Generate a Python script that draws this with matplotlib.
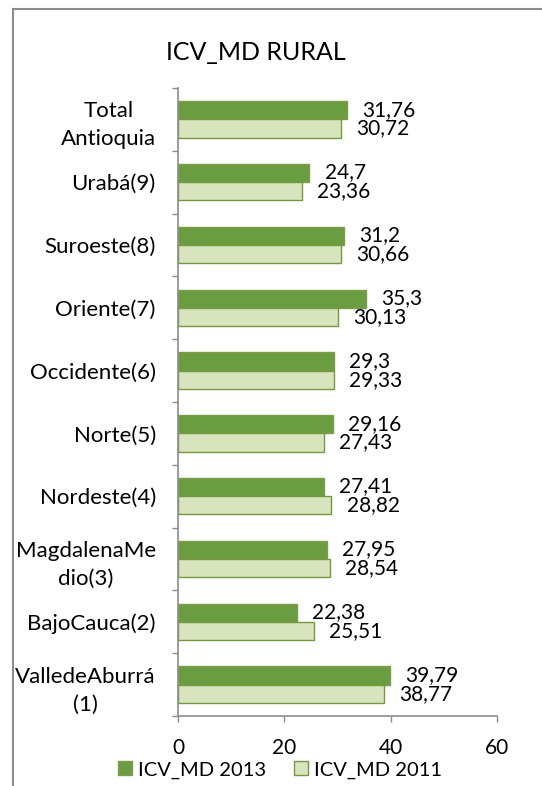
import matplotlib
matplotlib.use("Agg")
import matplotlib.pyplot as plt
from matplotlib.lines import Line2D

plt.rcParams["font.family"] = ["Lato", "DejaVu Sans"]

regions = ["Total\nAntioquia", "Urabá(9)", "Suroeste(8)", "Oriente(7)", "Occidente(6)",
           "Norte(5)", "Nordeste(4)", "MagdalenaMe\ndio(3)", "BajoCauca(2)", "ValledeAburrá\n(1)"]
icv_2013 = [31.76, 24.7, 31.2, 35.3, 29.3, 29.16, 27.41, 27.95, 22.38, 39.79]
icv_2011 = [30.72, 23.36, 30.66, 30.13, 29.33, 27.43, 28.82, 28.54, 25.51, 38.77]
xticks = [0, 20, 40, 60]

dark = "#6a9d41"
dark_edge = "#7f9c48"
light = "#d8e4bd"
light_edge = "#76983f"
axis_gray = "#8c8c8c"

fig = plt.figure(figsize=(5.42, 7.86), dpi=100)
ax = fig.add_axes([178 / 542, 1 - 716 / 786, (497 - 178) / 542, (716 - 88) / 786])

# top category first -> reverse positions
n = len(regions)
pos = [n - 1 - i for i in range(n)]
h = 0.29
b1 = ax.barh([p + h / 2 for p in pos], icv_2013, height=h, color=dark, edgecolor=dark_edge,
             linewidth=1, label="ICV_MD 2013")
b2 = ax.barh([p - h / 2 for p in pos], icv_2011, height=h, color=light, edgecolor=light_edge,
             linewidth=1, label="ICV_MD 2011")

def fmt(v):
    return f"{v:g}".replace(".", ",")

for p, v in zip(pos, icv_2013):
    ax.annotate(fmt(v), (v, p + h / 2), xytext=(11, 0.5), textcoords="offset points",
                ha="left", va="center", fontsize=15)
for p, v in zip(pos, icv_2011):
    ax.annotate(fmt(v), (v, p - h / 2), xytext=(11, 0), textcoords="offset points",
                ha="left", va="center", fontsize=15)

ax.set_xlim(0, 60)
ax.set_ylim(-0.5, n - 0.5)
ax.set_xticks(xticks)
ax.set_xticklabels([str(t) for t in xticks], fontsize=15)
ax.set_yticks(pos)
ax.set_yticklabels(regions, fontsize=16, multialignment="center", linespacing=1.5)
ax.set_yticks([i - 0.5 for i in range(n + 1)], minor=True)
ax.tick_params(axis="y", which="major", length=0, pad=16)
ax.tick_params(axis="y", which="minor", length=4.5, color=axis_gray, width=1)
ax.tick_params(axis="x", length=4, color=axis_gray, width=1, pad=12)

for s in ["top", "right"]:
    ax.spines[s].set_visible(False)
for s in ["left", "bottom"]:
    ax.spines[s].set_color(axis_gray)
    ax.spines[s].set_linewidth(1.2)

fig.text(256 / 542, 1 - 52 / 786, "ICV_MD RURAL", ha="center", va="center", fontsize=18)

fig.legend(handles=[b1, b2], loc="center", bbox_to_anchor=(280 / 542, 1 - 770 / 786),
           ncol=2, frameon=False, fontsize=14.5, handlelength=0.7, handleheight=0.7,
           handletextpad=0.3, columnspacing=1.4, borderaxespad=0)

# chart area border (only top and left fall inside the picture)
fig.add_artist(Line2D([13 / 542, 13 / 542], [0, 1 - 9 / 786], transform=fig.transFigure,
                      color=axis_gray, linewidth=1.5))
fig.add_artist(Line2D([13 / 542, 1], [1 - 9 / 786, 1 - 9 / 786], transform=fig.transFigure,
                      color=axis_gray, linewidth=1.5))

fig.savefig("out.png", dpi=100)
